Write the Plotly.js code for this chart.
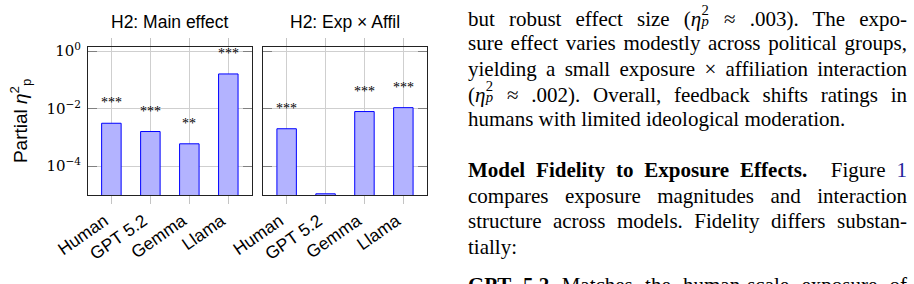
<!DOCTYPE html>
<html><head><meta charset="utf-8">
<script src="https://cdn.plot.ly/plotly-3.0.1.min.js"></script>
<style>
html,body{margin:0;padding:0;background:#fff;overflow:hidden;width:914px;height:284px;}
#chart{position:absolute;left:0;top:0;width:914px;height:284px;}
#text{position:absolute;left:468px;top:0;width:439px;height:284px;font-family:"Liberation Serif","Times New Roman",serif;font-size:21px;color:#000;}
.ln{position:absolute;left:0;width:439px;height:26px;line-height:26px;white-space:nowrap;text-align:justify;text-align-last:justify;}
.ln.last{text-align:left;text-align-last:left;}
.eta{font-style:italic;}
.ss{display:inline-block;position:relative;width:0.42em;height:1em;vertical-align:baseline;}
.ss .sup{position:absolute;left:0.02em;top:-0.04em;font-size:0.7em;line-height:0.95;}
.ss .sub{position:absolute;left:0.02em;top:0.70em;font-size:0.7em;line-height:0.95;font-style:italic;}
.ref{color:#22229a;}
.q{display:inline-block;width:0.6em;}
</style>
</head><body>
<div id="chart"></div>
<div id="text">
  <div class="ln" style="top:4.9px">but robust effect size (<span class="eta">η</span><span class="ss"><span class="sup">2</span><span class="sub">p</span></span> ≈ .003). The expo-</div>
  <div class="ln" style="top:30.2px">sure effect varies modestly across political groups,</div>
  <div class="ln" style="top:55.5px">yielding a small exposure × affiliation interaction</div>
  <div class="ln" style="top:80.8px">(<span class="eta">η</span><span class="ss"><span class="sup">2</span><span class="sub">p</span></span> ≈ .002). Overall, feedback shifts ratings in</div>
  <div class="ln last" style="top:106.1px">humans with limited ideological moderation.</div>
  <div class="ln" style="top:156.6px"><b>Model Fidelity to Exposure Effects.</b><span class="q"></span> Figure <span class="ref">1</span></div>
  <div class="ln" style="top:182.6px">compares exposure magnitudes and interaction</div>
  <div class="ln" style="top:208.2px">structure across models. Fidelity differs substan-</div>
  <div class="ln last" style="top:234.2px">tially:</div>
  <div class="ln" style="top:272px"><b>GPT 5.2</b> Matches the human-scale exposure of</div>
</div>
<script>
const categories = ['Human', 'GPT 5.2', 'Gemma', 'Llama'];
const mainEffect = [0.0031, 0.0016, 0.0006, 0.16];
const interaction = [0.002, 0.000011, 0.0079, 0.0108];
const mainStars = ['***', '***', '**', '***'];
const interStars = ['***', '', '***', '***'];
const yTickVals = [1, 0.01, 0.0001];
const yTickText = ['10<sup>0</sup>', '10<sup>−2</sup>', '10<sup>−4</sup>'];
const panelTitles = ['H2: Main effect', 'H2: Exp × Affil'];

const W = 914, H = 284;
const barStyle = {color: '#b3b3ff', line: {color: '#0000ff', width: 1}};

const traces = [
  {type: 'bar', x: categories, y: mainEffect, width: 0.5, marker: barStyle, xaxis: 'x', yaxis: 'y', hoverinfo: 'skip'},
  {type: 'bar', x: categories, y: interaction, width: 0.5, marker: barStyle, xaxis: 'x2', yaxis: 'y2', hoverinfo: 'skip'}
];

function xAxis(domain) {
  return {
    domain: domain, type: 'category', range: [-0.6, 3.6],
    showgrid: true, gridcolor: '#cfcfcf', gridwidth: 1,
    showline: true, linecolor: '#222', linewidth: 1, mirror: 'allticks',
    ticks: 'outside', ticklen: 8, tickcolor: '#c4c4c4', tickwidth: 1,
    tickangle: -35, ticklabelshift: -7,
    tickfont: {family: 'Liberation Sans, Arial, sans-serif', size: 17.5, color: '#000'},
    zeroline: false, fixedrange: true
  };
}
function yAxis(labels) {
  return {
    domain: [1 - 195 / H, 1 - 46.7 / H], type: 'log', range: [-5, 0.15],
    tickvals: yTickVals, ticktext: yTickText, showticklabels: labels,
    showgrid: true, gridcolor: '#cfcfcf', gridwidth: 1,
    showline: true, linecolor: '#222', linewidth: 1, mirror: 'allticks',
    ticks: 'inside', ticklen: 9, tickcolor: '#808080', tickwidth: 1,
    ticklabelstandoff: 3,
    tickfont: {family: 'DejaVu Serif, serif', size: 15, color: '#000'},
    zeroline: false, fixedrange: true
  };
}

const y1 = yAxis(true);
y1.title = {text: 'Partial <i>η</i><sup>2</sup><sub>p</sub>', font: {family: 'Liberation Sans, Arial, sans-serif', size: 19, color: '#000'}, standoff: 13};
const y2 = yAxis(false);
y2.anchor = 'x2';

const annotations = [];
[['x', 'y', mainEffect, mainStars], ['x2', 'y2', interaction, interStars]].forEach(function (p, k) {
  annotations.push({
    xref: p[0] + ' domain', yref: 'paper', x: 0.5, y: 1 - 21.7 / H, yanchor: 'middle', xanchor: 'center',
    text: panelTitles[k], showarrow: false,
    font: {family: 'Liberation Sans, Arial, sans-serif', size: 17.5, color: '#000'}
  });
  p[2].forEach(function (v, i) {
    if (!p[3][i]) return;
    annotations.push({
      xref: p[0], yref: p[1], x: categories[i], y: Math.log10(v),
      text: p[3][i], showarrow: false, yanchor: 'bottom', yshift: 11,
      font: {family: 'Liberation Serif, Times New Roman, serif', size: 14, color: '#000'}
    });
  });
});

const layout = {
  width: W, height: H, margin: {l: 0, r: 0, t: 0, b: 0},
  paper_bgcolor: 'rgba(0,0,0,0)', plot_bgcolor: '#fff',
  showlegend: false, bargap: 0.5,
  xaxis: Object.assign(xAxis([88 / W, 251.7 / W]), {anchor: 'y'}),
  xaxis2: Object.assign(xAxis([263.3 / W, 426.7 / W]), {anchor: 'y2'}),
  yaxis: Object.assign(y1, {anchor: 'x'}),
  yaxis2: y2,
  annotations: annotations
};

Plotly.newPlot('chart', traces, layout, {staticPlot: true, displayModeBar: false});
</script>
</body></html>
